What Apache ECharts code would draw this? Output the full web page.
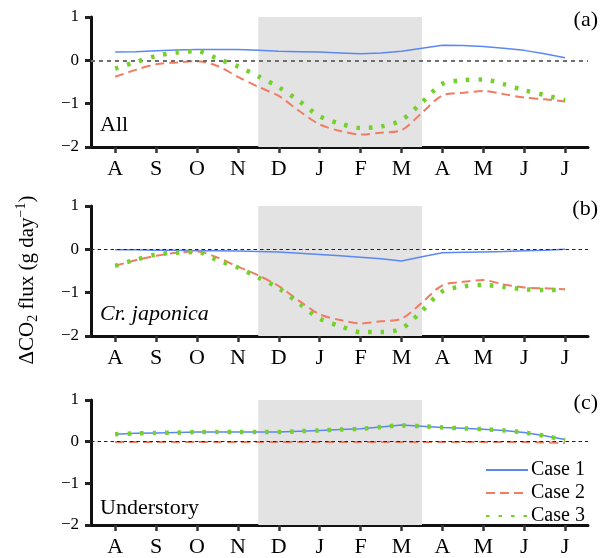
<!DOCTYPE html>
<html><head><meta charset="utf-8">
<script src="https://cdn.jsdelivr.net/npm/echarts@6/dist/echarts.min.js"></script>
<style>html,body{margin:0;padding:0;background:#fff}#c{width:602px;height:558px}</style>
</head><body><div id="c"></div>
<script>
const months = ['A','S','O','N','D','J','F','M','A','M','J','J'];
const monthTicks = [0,1,2,3,4,5,6,7,8,9,10,11];
const xPos = [0,0.5,1,1.5,2,2.5,3,3.5,4,4.5,5,5.5,6,6.5,7,7.5,8,8.5,9,9.5,10,10.5,11];
const yTicks = [-2,-1,0,1];
const shadeRange = [3.5, 7.5];
const panelNames = ['All','Cr. japonica','Understory'];
const panelTags = ['(a)','(b)','(c)'];
const caseNames = ['Case 1','Case 2','Case 3'];

const allCase1 = [0.19,0.20,0.22,0.24,0.25,0.25,0.25,0.23,0.21,0.20,0.19,0.17,0.15,0.17,0.21,0.28,0.35,0.34,0.32,0.28,0.23,0.15,0.06];
const allCase2 = [-0.38,-0.22,-0.09,-0.05,-0.02,-0.13,-0.38,-0.61,-0.82,-1.17,-1.48,-1.63,-1.71,-1.67,-1.61,-1.21,-0.81,-0.75,-0.71,-0.78,-0.86,-0.90,-0.95];
const allCase3 = [-0.19,-0.04,0.10,0.18,0.21,0.04,-0.14,-0.37,-0.62,-0.94,-1.29,-1.46,-1.56,-1.53,-1.38,-0.97,-0.54,-0.46,-0.44,-0.55,-0.69,-0.80,-0.92];

const japCase1 = [-0.01,-0.01,-0.02,-0.02,-0.03,-0.03,-0.04,-0.05,-0.06,-0.09,-0.12,-0.15,-0.18,-0.22,-0.27,-0.17,-0.08,-0.07,-0.06,-0.05,-0.03,-0.02,0.00];
const japCase2 = [-0.38,-0.25,-0.15,-0.08,-0.05,-0.19,-0.40,-0.60,-0.85,-1.19,-1.50,-1.63,-1.71,-1.66,-1.60,-1.23,-0.83,-0.75,-0.71,-0.81,-0.88,-0.90,-0.92];
const japCase3 = [-0.38,-0.24,-0.12,-0.08,-0.06,-0.25,-0.42,-0.65,-0.90,-1.25,-1.60,-1.77,-1.91,-1.91,-1.83,-1.42,-0.97,-0.86,-0.82,-0.87,-0.92,-0.94,-0.94];

const undCase1 = [0.18,0.20,0.21,0.22,0.23,0.23,0.23,0.23,0.23,0.25,0.27,0.29,0.31,0.35,0.40,0.37,0.34,0.32,0.30,0.27,0.22,0.14,0.05];
const undCase2 = [-0.01,-0.01,-0.01,-0.01,-0.01,-0.01,-0.01,-0.01,-0.01,-0.01,-0.01,-0.01,-0.01,-0.01,-0.01,-0.01,-0.01,-0.01,-0.01,-0.01,-0.01,-0.02,-0.03];
const undCase3 = [0.18,0.20,0.21,0.22,0.23,0.23,0.23,0.23,0.23,0.25,0.27,0.29,0.31,0.35,0.39,0.37,0.34,0.32,0.30,0.27,0.22,0.14,0.04];

const panels = [[allCase1,allCase2,allCase3],[japCase1,japCase2,japCase3],[undCase1,undCase2,undCase3]];

const SERIF = '"Liberation Serif","Times New Roman",serif';
const colors = ['#5b87f3','#f07c62','#74d02a'];
const lineStyles = [
  {width:1.5, type:'solid'},
  {width:2, type:[9,5]},
  {width:4.5, type:[3.5,9], cap:'butt'}
];
const gridTops = [17,206,400];
const gridHeights = [130,130,129];

const grid = [], xAxis = [], yAxis = [], series = [], graphic = [];
panels.forEach((p, i) => {
  grid.push({left:91, right:14, top:gridTops[i], height:gridHeights[i], containLabel:false});
  xAxis.push({
    type:'value', gridIndex:i, min:-0.59, max:11.56,
    axisLine:{show:true, onZero:false, lineStyle:{color:'#111', width:3}},
    axisTick:{show:true, customValues:monthTicks, length:6, lineStyle:{color:'#333', width:2.5}},
    axisLabel:{show:true, customValues:monthTicks, formatter:(v)=>months[Math.round(v)],
      fontFamily:SERIF, fontSize:22, color:'#000', margin:11},
    splitLine:{show:false}
  });
  yAxis.push({
    type:'value', gridIndex:i, min:-2, max:1, interval:1,
    axisLine:{show:true, onZero:false, lineStyle:{color:'#111', width:3}},
    axisTick:{show:true, length:6, lineStyle:{color:'#222', width:3}},
    axisLabel:{fontFamily:SERIF, fontSize:17, color:'#000', margin:12,
      formatter:(v)=> v<0 ? '\u2212'+Math.abs(v) : String(v)},
    splitLine:{show:false}
  });
  series.push({
    type:'line', xAxisIndex:i, yAxisIndex:i, data:[], silent:true, z:1,
    markArea:{silent:true, itemStyle:{color:'#e3e3e3'}, data:[[{xAxis:shadeRange[0]},{xAxis:shadeRange[1]}]]},
    markLine:{silent:true, symbol:['none','none'], label:{show:false},
      lineStyle: i===0 ? {color:'#6e6e6e', width:2, type:[4,4]} : {color:'#222', width:1, type:[3.5,3]},
      data:[{yAxis:0}]}
  });
  p.forEach((vals, k) => {
    series.push({
      name:caseNames[k], type:'line', xAxisIndex:i, yAxisIndex:i, z:3+k,
      data: xPos.map((x, j) => [x, vals[j]]),
      showSymbol:false, symbol:'none', smooth: k===0 ? false : 0.3,
      lineStyle: Object.assign({color:colors[k]}, lineStyles[k]),
      itemStyle:{color:colors[k]}, silent:true, animation:false
    });
  });
  graphic.push({type:'text', right:4, top:gridTops[i]-8,
    style:{text:panelTags[i], font:'22px '+SERIF, fill:'#000'}});
  graphic.push({type:'text', left:100, top:gridTops[i]+97,
    style:{text:panelNames[i], font:(i===1?'italic ':'')+'22px '+SERIF, fill:'#000'}});
});

graphic.push({
  type:'text', x:27, y:280, rotation:Math.PI/2,
  style:{
    text:'{a|\u0394CO}{s|2}{a| flux (g day}{p|\u22121}{a|)}',
    align:'center', verticalAlign:'middle',
    rich:{
      a:{fontFamily:SERIF, fontSize:21, lineHeight:26, verticalAlign:'middle', fill:'#000'},
      s:{fontFamily:SERIF, fontSize:14, lineHeight:14, verticalAlign:'bottom', fill:'#000'},
      p:{fontFamily:SERIF, fontSize:14, lineHeight:14, verticalAlign:'top', fill:'#000'}
    }
  }
});

const chart = echarts.init(document.getElementById('c'), null, {renderer:'canvas'});
chart.setOption({
  animation:false,
  backgroundColor:'#fff',
  grid, xAxis, yAxis, series, graphic,
  legend:{
    data:caseNames, orient:'vertical', left:480, top:455,
    itemWidth:42, itemHeight:14, itemGap:3,
    itemStyle:{opacity:0},
    textStyle:{fontFamily:SERIF, fontSize:20, color:'#000', padding:[0,0,0,-2]},
    selectedMode:false
  }
});
</script></body></html>
